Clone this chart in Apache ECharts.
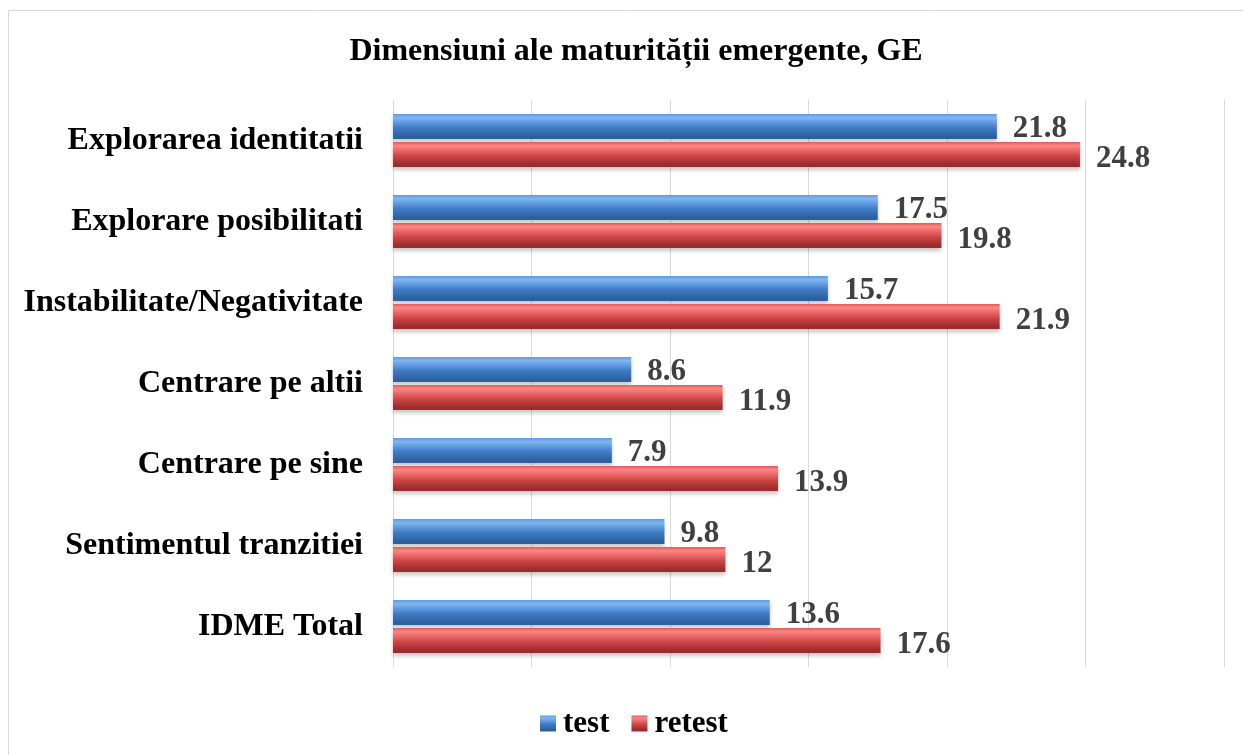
<!DOCTYPE html>
<html>
<head>
<meta charset="utf-8">
<title>Dimensiuni ale maturitatii emergente, GE</title>
<script src="https://cdn.jsdelivr.net/npm/echarts@6/dist/echarts.min.js"></script>
<style>
    html, body { margin: 0; padding: 0; background: #fff; }
    #chart { width: 1243px; height: 755px; }
</style>
</head>
<body>
<div id="chart"></div>
<script>
    var categories = [
        'Explorarea identitatii',
        'Explorare posibilitati',
        'Instabilitate/Negativitate',
        'Centrare pe altii',
        'Centrare pe sine',
        'Sentimentul tranzitiei',
        'IDME Total'
    ]
    var testValues = [21.8, 17.5, 15.7, 8.6, 7.9, 9.8, 13.6]
    var retestValues = [24.8, 19.8, 21.9, 11.9, 13.9, 12, 17.6]
    var seriesNames = ['test', 'retest']

    var fontFamily = '"Liberation Serif", "Times New Roman", serif'

    function barGradient(top, light, mid, dark) {
        return new echarts.graphic.LinearGradient(0, 0, 0, 1, [
            { offset: 0, color: top },
            { offset: 0.15, color: light },
            { offset: 0.55, color: mid },
            { offset: 0.9, color: dark },
            { offset: 1, color: dark }
        ])
    }

    var blueFill = barGradient('#5f9be0', '#7fb6f2', '#3f7bc6', '#2f609e')
    var redFill = barGradient('#e05a5a', '#ff8585', '#d04646', '#9c2c2c')

    function makeSeries(name, values, fill, labelShift) {
        return {
            name: name,
            type: 'bar',
            data: values,
            barWidth: 25,
            barGap: '12%',
            itemStyle: {
                color: fill,
                shadowColor: 'rgba(0,0,0,0.22)',
                shadowBlur: 4,
                shadowOffsetY: 3
            },
            label: {
                show: true,
                position: 'right',
                distance: 16,
                offset: [0, labelShift],
                color: '#404040',
                fontFamily: fontFamily,
                fontWeight: 'bold',
                fontSize: 31
            }
        }
    }

    var myChart = echarts.init(document.getElementById('chart'))

    var option = {
        backgroundColor: '#fff',
        animation: false,
        graphic: [{
            type: 'rect',
            shape: { x: 8.5, y: 10.5, width: 1400, height: 900 },
            style: { fill: 'none', stroke: '#d9d9d9', lineWidth: 1 },
            silent: true
        }],
        title: {
            text: 'Dimensiuni ale maturității emergente, GE',
            left: 631,
            top: 31,
            textAlign: 'center',
            textStyle: {
                color: '#000',
                fontFamily: fontFamily,
                fontWeight: 'bold',
                fontSize: 32
            }
        },
        legend: {
            data: seriesNames,
            left: 535,
            top: 703,
            icon: 'rect',
            itemWidth: 16,
            itemHeight: 16,
            itemGap: 22,
            textStyle: {
                color: '#000',
                fontFamily: fontFamily,
                fontWeight: 'bold',
                fontSize: 31,
                padding: [0, 0, 0, 2]
            }
        },
        grid: {
            left: 393,
            right: 19,
            top: 100,
            bottom: 88,
            containLabel: false
        },
        xAxis: {
            type: 'value',
            min: 0,
            max: 30,
            interval: 5,
            axisLabel: { show: false },
            axisTick: { show: false },
            axisLine: { show: false },
            splitLine: {
                show: true,
                lineStyle: { color: '#d9d9d9', width: 1 }
            }
        },
        yAxis: {
            type: 'category',
            data: categories,
            inverse: true,
            axisTick: { show: false },
            axisLine: { show: false },
            axisLabel: {
                margin: 30,
                color: '#000',
                fontFamily: fontFamily,
                fontWeight: 'bold',
                fontSize: 32
            }
        },
        series: [
            makeSeries(seriesNames[0], testValues, blueFill, 2),
            makeSeries(seriesNames[1], retestValues, redFill, 4)
        ]
    }

    myChart.setOption(option)
</script>
</body>
</html>
